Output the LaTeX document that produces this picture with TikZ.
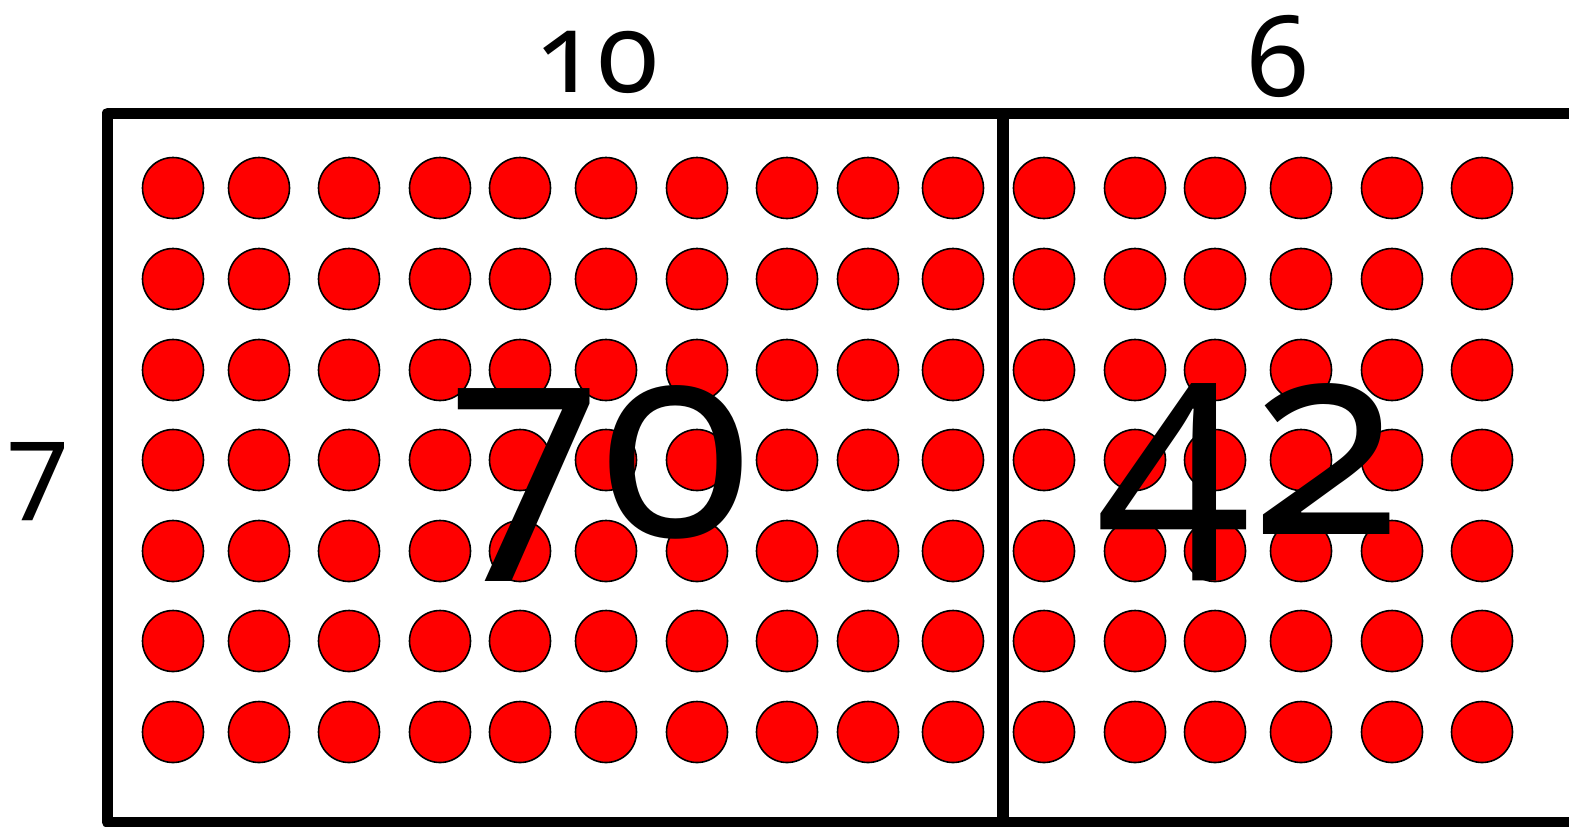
\documentclass[tikz,border=0pt]{standalone}
\usepackage{fontspec}
\setmainfont{Noto Sans}[Numbers=OldStyle]
\begin{document}
\begin{tikzpicture}[x=0.5pt,y=-0.5pt,
  dot/.style={circle,draw=black,line width=0.8pt,fill=red,minimum size=30.5pt,inner sep=0pt},
  frame/.style={line width=5.5pt,line join=round,line cap=round},
  lab/.style={anchor=base,inner sep=0pt,font=\fontsize{56}{56}\selectfont},
  big/.style={anchor=base,inner sep=0pt,font=\fontsize{138}{138}\selectfont}]
\useasboundingbox (0,0) rectangle (1569,826);
\clip (0,0) rectangle (1569,826);
\fill[white] (0,0) rectangle (1569,826);
\foreach \x [count=\c] in {173,259,349,440,520,606,697,787,868,953,1044,1135,1215,1301,1392,1482}{
  \foreach \y [count=\r] in {188,279,370,460,551,641,732}{
    \node[dot] (d\r-\c) at (\x,\y) {};
  }
}
\draw[frame] (1580,113) -- (107.5,113) -- (107.5,822) -- (1580,822);
\draw[line width=6pt] (1003,113) -- (1003,822);
\node[lab] (top10) at (597,92) {10};
\node[lab] (top6) at (1278,96) {6};
\node[lab] (left7) at (38,502) {7};
\node[big] (c70) at (600,536) {70};
\node[big] (c42) at (1250,534) {42};
\end{tikzpicture}
\end{document}
